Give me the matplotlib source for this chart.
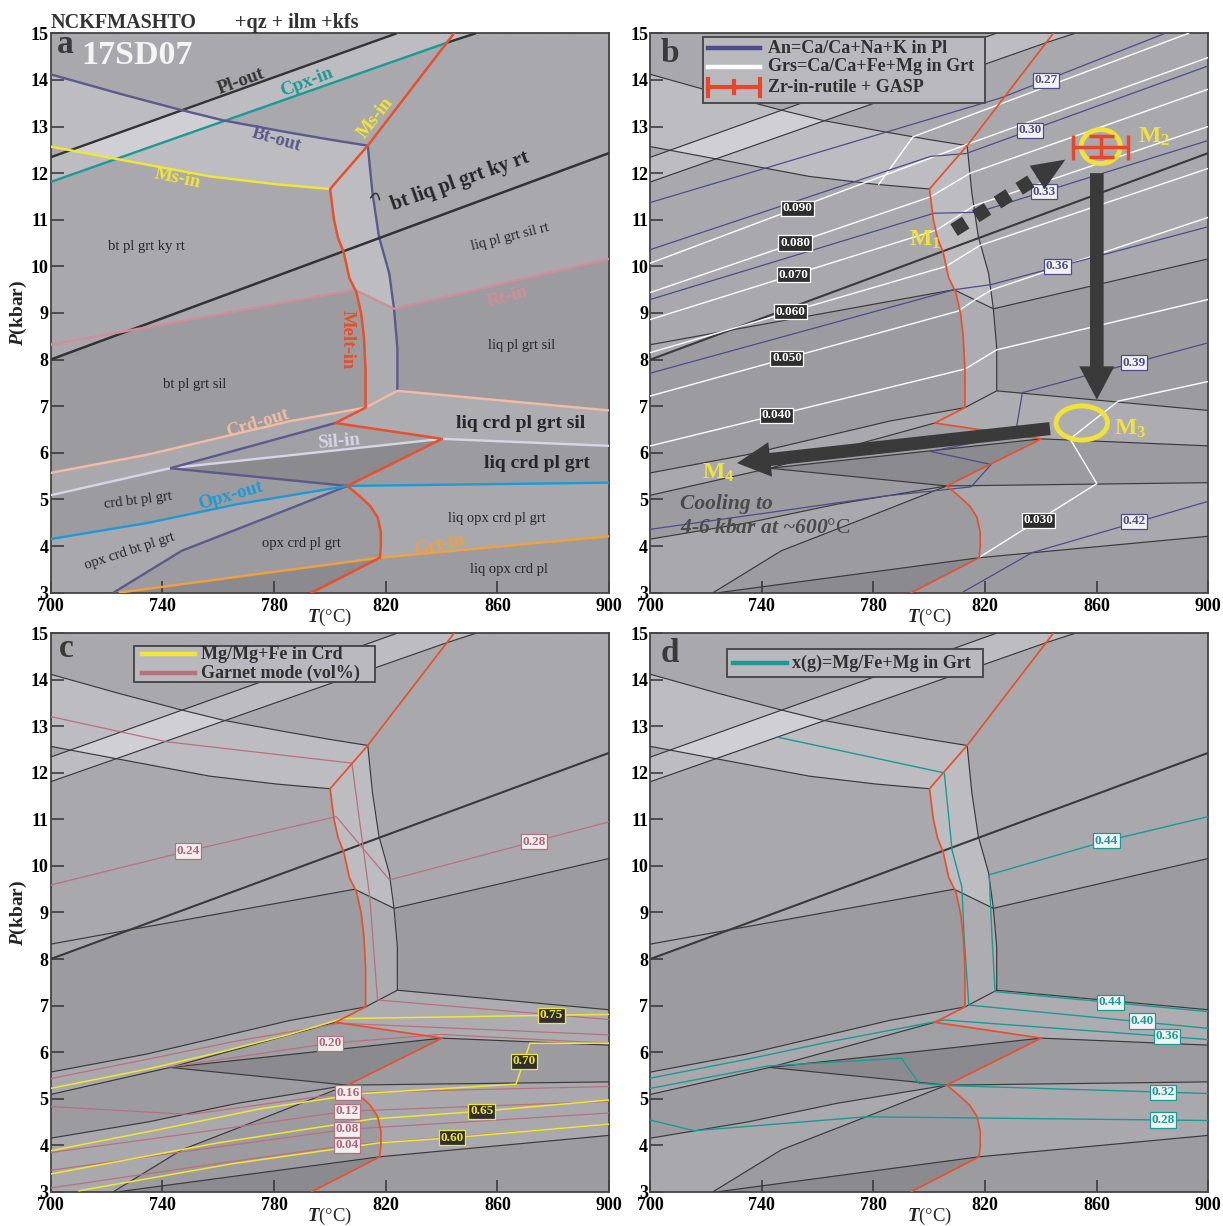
import numpy as np
import matplotlib
matplotlib.use("Agg")
import matplotlib.pyplot as plt
from matplotlib.colors import to_rgb
from matplotlib.patches import Polygon, Ellipse, Rectangle
from matplotlib.lines import Line2D

plt.rcParams["font.family"] = ["Liberation Serif", "DejaVu Serif"]
plt.rcParams["mathtext.fontset"] = "custom"
plt.rcParams["mathtext.rm"] = "Liberation Serif"
plt.rcParams["mathtext.it"] = "Liberation Serif:italic:bold"
plt.rcParams["mathtext.bf"] = "Liberation Serif:bold"

T_RANGE = (700, 900)
P_RANGE = (3, 15)
T_TICKS = [700, 740, 780, 820, 860, 900]
P_TICKS = list(range(3, 16))

# ---------------- phase boundaries (T in degC, P in kbar) ----------------
PL_OUT_T = [700, 824]
PL_OUT_P = [12.34, 15.0]
CPX_IN_T = [700, 842, 852.3]
CPX_IN_P = [11.81, 14.8, 15.0]
BT_OUT_CURVE_T = [700, 725, 746.4, 762, 783.6, 800, 813.6]
BT_OUT_CURVE_P = [14.12, 13.70, 13.36, 13.13, 12.89, 12.72, 12.59]
BT_OUT_VERT_T = [813.6, 815.3, 817.6, 821.3, 823.0, 824.2, 824.2]
BT_OUT_VERT_P = [12.59, 11.57, 10.64, 9.85, 9.09, 8.26, 7.33]
MS_IN_T = [700, 724, 757, 781, 800.1]
MS_IN_P = [12.57, 12.30, 11.93, 11.76, 11.66]
MELT_HP_T = [844.5, 813.6, 800.1, 801.5, 803.0, 805.0, 807.0, 809.5, 811.2, 812.2, 812.8, 812.8]
MELT_HP_P = [15.0, 12.59, 11.66, 11.0, 10.6, 10.3, 9.75, 9.45, 9.0, 8.5, 7.8, 6.97]
MELT_KINK_T = [812.8, 802.0, 840.2, 806.3]
MELT_KINK_P = [6.97, 6.64, 6.30, 5.29]
MELT_LP_T = [806.3, 810.5, 814.5, 817.1, 818.3, 818.3, 817.9, 793.5]
MELT_LP_P = [5.29, 5.08, 4.86, 4.62, 4.30, 4.00, 3.75, 3.00]
KY_SIL_T = [700, 900]
KY_SIL_P = [8.0, 12.43]
RT_IN_T = [700, 808.9, 823.0, 900]
RT_IN_P = [8.32, 9.50, 9.09, 10.16]
CRD_OUT_T = [700, 734.6, 760.2, 785.7, 812.8, 824.2, 900]
CRD_OUT_P = [5.57, 5.96, 6.32, 6.68, 6.97, 7.33, 6.91]
SIL_IN_T = [700, 742.8, 840.2, 900]
SIL_IN_P = [5.09, 5.67, 6.30, 6.15]
BT_LOW_A_T = [742.8, 802.0]
BT_LOW_A_P = [5.67, 6.64]
BT_LOW_B_T = [742.8, 806.3]
BT_LOW_B_P = [5.67, 5.29]
BT_LOW_C_T = [722.5, 747, 777, 806.3]
BT_LOW_C_P = [3.0, 3.9, 4.6, 5.29]
OPX_OUT_T = [700, 735, 767, 806.3, 900]
OPX_OUT_P = [4.15, 4.50, 4.90, 5.29, 5.36]
GRT_IN_T = [724.4, 817.9, 900]
GRT_IN_P = [3.0, 3.75, 4.21]

# ---------------- isopleths ----------------
# An = Ca/(Ca+Na+K) in plagioclase
AN_LINES = {
    "0.27": ([700, 826, 884.6], [11.37, 13.62, 15.0]),
    "0.30": ([700, 800.5, 813.2, 900], [10.36, 12.36, 12.42, 14.30]),
    "0.33": ([700, 801.7, 817.3, 900], [9.29, 11.14, 11.16, 12.70]),
    "0.36": ([700, 809.0, 822.2, 900], [7.71, 9.50, 9.61, 10.85]),
    "0.39": ([700, 741.6, 783.7, 815.0, 822.2, 800.5, 830.9, 833.4, 900],
             [4.36, 4.71, 5.07, 5.27, 5.75, 6.03, 6.40, 7.29, 8.36]),
    "0.42": ([811.7, 836.9, 900], [3.0, 3.86, 4.96]),
}
AN_LABEL_T = [841.9, 836.2, 841.1, 846.0, 873.4, 873.4]
AN_LABEL_P = [13.99, 12.92, 11.60, 10.00, 7.93, 4.53]

# Grs = Ca/(Ca+Fe+Mg) in garnet
GRS_LINES = {
    "0.100": ([781.9, 794.2, 893.0], [11.76, 12.78, 15.0]),
    "0.090": ([700, 814.1, 900], [10.07, 12.63, 14.48]),
    "0.080": ([700, 800.4, 814.7, 900], [9.44, 11.49, 12.00, 13.80]),
    "0.070": ([700, 802.7, 816.0, 900], [8.86, 10.78, 11.30, 13.00]),
    "0.060": ([700, 806.0, 818.2, 900], [8.15, 10.00, 10.45, 12.10]),
    "0.050": ([700, 810.3, 816.6, 822.5, 900], [7.22, 9.04, 9.29, 9.50, 11.05]),
    "0.040": ([700, 812.9, 824.2, 900], [6.15, 7.80, 8.21, 9.29]),
    "0.030": ([818.0, 843.3, 860.1, 850.5, 867.8, 900], [3.76, 4.71, 5.34, 6.30, 7.11, 7.53]),
}
GRS_LABEL_TXT = ["0.090", "0.080", "0.070", "0.060", "0.050", "0.040", "0.030"]
GRS_LABEL_T = [752.7, 751.9, 751.3, 750.4, 749.0, 745.3, 839.1]
GRS_LABEL_P = [11.25, 10.50, 9.82, 9.03, 8.03, 6.81, 4.55]

# Mg/(Mg+Fe) in cordierite
CRD_MG_LINES = {
    "0.75": ([700, 735, 760, 785, 804.4, 900], [5.22, 5.64, 5.99, 6.37, 6.72, 6.81]),
    "0.70": ([700, 740, 775, 811.5, 866.7, 871.7, 900], [3.88, 4.35, 4.78, 5.11, 5.31, 6.19, 6.19]),
    "0.65": ([700, 760, 815, 854.4, 900], [3.38, 4.05, 4.56, 4.73, 4.97]),
    "0.60": ([710.2, 765, 817.8, 843.8, 900], [3.02, 3.60, 4.05, 4.16, 4.45]),
}
CRD_MG_LABEL_T = [879.4, 869.5, 854.4, 843.8]
CRD_MG_LABEL_P = [6.79, 5.80, 4.73, 4.16]

# garnet mode (vol%)
GRT_MODE_LINES = [
    ([700, 741.4, 807.9, 814.3, 817.1, 900], [13.21, 12.67, 12.21, 9.34, 7.12, 6.70]),
    ([700, 749.2, 802.3, 821.4, 900], [9.59, 10.32, 11.06, 9.70, 10.95]),
    ([700, 735, 765, 803.6, 900], [5.43, 5.85, 6.22, 6.62, 6.37]),
    ([742.8, 800.1, 840, 900], [5.68, 6.19, 6.38, 6.19]),
    ([700, 749.9, 806.5, 900], [4.83, 4.66, 5.13, 5.26]),
    ([700, 750, 806.1, 900], [3.84, 4.25, 4.73, 4.94]),
    ([700, 750, 806.1, 900], [3.46, 3.88, 4.34, 4.69]),
    ([700, 750, 806.1, 900], [3.08, 3.52, 4.00, 4.44]),
]
GRT_MODE_LABEL_TXT = ["0.24", "0.28", "0.20", "0.16", "0.12", "0.08", "0.04"]
GRT_MODE_LABEL_T = [749.2, 873.1, 800.1, 806.5, 806.1, 806.1, 806.1]
GRT_MODE_LABEL_P = [10.32, 10.52, 6.19, 5.13, 4.73, 4.34, 4.00]

# x(g) = Mg/(Fe+Mg) in garnet
XG_LINES = [
    ([900, 863.6, 821.5, 822.5, 823.6, 900], [11.06, 10.54, 9.81, 8.50, 7.30, 6.87]),
    ([745.5, 805.4, 808.2, 811.7, 812.5, 814.2, 900], [12.77, 12.00, 10.34, 9.55, 8.50, 7.01, 6.51]),
    ([700, 735, 765, 805.4, 900], [5.44, 5.85, 6.23, 6.69, 6.27]),
    ([700, 742, 790, 796.3, 807, 900], [5.22, 5.70, 5.87, 5.33, 5.28, 5.11]),
    ([700, 715.7, 777.4, 900], [4.54, 4.31, 4.61, 4.53]),
]
XG_LABEL_TXT = ["0.44", "0.44", "0.40", "0.36", "0.32", "0.28"]
XG_LABEL_T = [863.6, 865.0, 876.2, 885.3, 883.9, 883.9]
XG_LABEL_P = [10.54, 7.07, 6.67, 6.34, 5.14, 4.54]

# P-T path
M2_T, M2_T_ERR = 861.5, 9.8
M2_P, M2_P_ERR = 12.57, 0.22
M3_T, M3_P = 854.7, 6.64
PROGRADE_T = [808.9, 848.8]
PROGRADE_P = [10.78, 12.29]
DECOMP_T = [860.1, 860.1]
DECOMP_P = [12.0, 7.14]
COOL_T = [843.3, 731.1]
COOL_P = [6.52, 5.78]

# ---------------- colours ----------------
SHADES = ["#8b8b8f", "#9c9ca0", "#a9a9ad", "#bdbdc1", "#d0d0d4", "#adadb1", "#a0a0a4"]
DARK = "#333333"
RED = "#e8502c"
TEAL = "#1a9a96"
SLATE = "#5a5a8c"
YEL = "#f2e632"
PINK = "#cf8e9a"
PEACH = "#f2bba4"
LAV = "#d8d4e8"
BLUE = "#1c9ad6"
ORANGE = "#f0a03c"
AN_COL = "#4c4c8c"
GM_COL = "#b8707e"
PATH_COL = "#3a3a3a"


def lin(x, xs, ys):
    xs = np.asarray(xs, float)
    ys = np.asarray(ys, float)
    y = np.interp(x, xs, ys)
    y = np.where(x < xs[0], ys[0] + (x - xs[0]) * (ys[1] - ys[0]) / (xs[1] - xs[0]), y)
    y = np.where(x > xs[-1], ys[-1] + (x - xs[-1]) * (ys[-1] - ys[-2]) / (xs[-1] - xs[-2]), y)
    return y


def field_raster(n=900):
    T = np.linspace(*T_RANGE, n)
    P = np.linspace(*P_RANGE, n)
    TT, PP = np.meshgrid(T, P)
    pl = lin(TT, PL_OUT_T, PL_OUT_P)
    cpx = lin(TT, CPX_IN_T, CPX_IN_P)
    bt = np.interp(TT, BT_OUT_CURVE_T, BT_OUT_CURVE_P)
    ms = np.interp(TT, MS_IN_T, MS_IN_P)
    ky = PP > lin(TT, KY_SIL_T, KY_SIL_P)
    rt = PP > lin(TT, RT_IN_T, RT_IN_P)
    melt_T = np.interp(PP, MELT_HP_P[::-1], MELT_HP_T[::-1])
    btv_T = np.interp(PP, BT_OUT_VERT_P[::-1], BT_OUT_VERT_T[::-1])
    band_pc = (PP > cpx) & (PP < pl)
    sub = TT < melt_T
    band = (~sub) & (TT < btv_T) & (PP < BT_OUT_VERT_P[0])
    right = (~sub) & (~band)

    idx = np.full(TT.shape, 2)
    m = sub & ~ky
    idx[m & ~rt] = 1
    idx[m & rt] = 2
    below_ms = PP < ms
    above_bt = PP > bt
    m = sub & ky & below_ms
    idx[m] = 2
    idx[m & band_pc] = 3
    m = sub & ky & ~below_ms & ~above_bt
    idx[m] = 3
    idx[m & band_pc] = 4
    m = sub & ky & ~below_ms & above_bt
    idx[m] = 2
    idx[m & band_pc] = 3
    idx[band & rt] = 3
    idx[band & ~rt] = 5
    idx[right & rt] = 2
    idx[right & ~rt] = 1
    idx[right & band_pc] = 3
    pal = np.array([to_rgb(c) for c in SHADES])
    return pal[idx]


def pt(T, P, i):
    return (T[i], P[i])


def pts(T, P, sl):
    return list(zip(T[sl], P[sl]))


CORNER_LL = (T_RANGE[0], P_RANGE[0])
CORNER_LR = (T_RANGE[1], P_RANGE[0])

LOW_FIELDS = [
    (pts(CRD_OUT_T, CRD_OUT_P, slice(0, 5)) + [pt(MELT_KINK_T, MELT_KINK_P, 1),
     pt(BT_LOW_A_T, BT_LOW_A_P, 0), pt(SIL_IN_T, SIL_IN_P, 0)], 2),
    (pts(CRD_OUT_T, CRD_OUT_P, slice(4, 7)) + [pt(SIL_IN_T, SIL_IN_P, 3), pt(SIL_IN_T, SIL_IN_P, 2),
     pt(MELT_KINK_T, MELT_KINK_P, 1)], 5),
    ([pt(BT_LOW_A_T, BT_LOW_A_P, 0), pt(MELT_KINK_T, MELT_KINK_P, 1), pt(MELT_KINK_T, MELT_KINK_P, 2)], 6),
    ([pt(SIL_IN_T, SIL_IN_P, 1), pt(SIL_IN_T, SIL_IN_P, 2), pt(MELT_KINK_T, MELT_KINK_P, 3)], 0),
    ([pt(SIL_IN_T, SIL_IN_P, 2), pt(SIL_IN_T, SIL_IN_P, 3), pt(OPX_OUT_T, OPX_OUT_P, 4),
      pt(OPX_OUT_T, OPX_OUT_P, 3)], 1),
    ([pt(SIL_IN_T, SIL_IN_P, 0), pt(SIL_IN_T, SIL_IN_P, 1)] + pts(OPX_OUT_T, OPX_OUT_P, slice(3, None, -1)), 1),
    (pts(OPX_OUT_T, OPX_OUT_P, slice(0, 4)) + pts(BT_LOW_C_T, BT_LOW_C_P, slice(2, None, -1)) + [CORNER_LL], 2),
    (pts(BT_LOW_C_T, BT_LOW_C_P, slice(0, 4)) + pts(MELT_LP_T, MELT_LP_P, slice(1, 7))
     + [pt(GRT_IN_T, GRT_IN_P, 0)], 1),
    ([pt(GRT_IN_T, GRT_IN_P, 0), pt(GRT_IN_T, GRT_IN_P, 1), pt(MELT_LP_T, MELT_LP_P, 7)], 0),
    ([pt(OPX_OUT_T, OPX_OUT_P, 3), pt(OPX_OUT_T, OPX_OUT_P, 4), pt(GRT_IN_T, GRT_IN_P, 2),
      pt(GRT_IN_T, GRT_IN_P, 1)] + pts(MELT_LP_T, MELT_LP_P, slice(5, 0, -1)), 2),
    ([pt(GRT_IN_T, GRT_IN_P, 1), pt(GRT_IN_T, GRT_IN_P, 2), CORNER_LR, pt(MELT_LP_T, MELT_LP_P, 7)], 1),
]

RASTER = field_raster()


def draw_base(ax, coloured):
    ax.imshow(RASTER, extent=(*T_RANGE, *P_RANGE), origin="lower", aspect="auto",
              interpolation="antialiased", zorder=0)
    for verts, shade in LOW_FIELDS:
        ax.add_patch(Polygon(verts, closed=True, fc=SHADES[shade], ec=SHADES[shade],
                             lw=0.3, zorder=1))
    if coloured:
        w = 1.7
        specs = [
            (PL_OUT_T, PL_OUT_P, DARK, w), (CPX_IN_T[:2], CPX_IN_P[:2], TEAL, w),
            (CPX_IN_T[1:], CPX_IN_P[1:], DARK, w),
            (BT_OUT_CURVE_T, BT_OUT_CURVE_P, SLATE, w), (BT_OUT_VERT_T, BT_OUT_VERT_P, SLATE, w),
            (MS_IN_T, MS_IN_P, YEL, w), (KY_SIL_T, KY_SIL_P, DARK, 1.8),
            (RT_IN_T, RT_IN_P, PINK, w), (CRD_OUT_T, CRD_OUT_P, PEACH, w),
            (SIL_IN_T, SIL_IN_P, LAV, w), (BT_LOW_A_T, BT_LOW_A_P, SLATE, w),
            (BT_LOW_B_T, BT_LOW_B_P, SLATE, w), (BT_LOW_C_T, BT_LOW_C_P, SLATE, w),
            (OPX_OUT_T, OPX_OUT_P, BLUE, w), (GRT_IN_T, GRT_IN_P, ORANGE, w),
        ]
        melt_w = 1.8
    else:
        c, w = "#3a3a3a", 0.85
        specs = [
            (PL_OUT_T, PL_OUT_P, c, w), (CPX_IN_T, CPX_IN_P, c, w),
            (BT_OUT_CURVE_T, BT_OUT_CURVE_P, c, w), (BT_OUT_VERT_T, BT_OUT_VERT_P, c, w),
            (MS_IN_T, MS_IN_P, c, w), (KY_SIL_T, KY_SIL_P, c, 1.5),
            (RT_IN_T, RT_IN_P, c, w), (CRD_OUT_T, CRD_OUT_P, c, w),
            (SIL_IN_T, SIL_IN_P, c, w), (BT_LOW_A_T, BT_LOW_A_P, c, w),
            (BT_LOW_B_T, BT_LOW_B_P, c, w), (BT_LOW_C_T, BT_LOW_C_P, c, w),
            (OPX_OUT_T, OPX_OUT_P, c, w), (GRT_IN_T, GRT_IN_P, c, w),
        ]
        melt_w = 1.25
    for T, P, col, lw in specs:
        ax.plot(T, P, color=col, lw=lw, solid_capstyle="butt", zorder=3)
    melt_T = MELT_HP_T + MELT_KINK_T[1:] + MELT_LP_T[1:]
    melt_P = MELT_HP_P + MELT_KINK_P[1:] + MELT_LP_P[1:]
    ax.plot(melt_T, melt_P, color=RED, lw=melt_w, zorder=5)


def style(ax, ylabel):
    ax.set_xlim(*T_RANGE)
    ax.set_ylim(*P_RANGE)
    ax.set_xticks(T_TICKS)
    ax.set_yticks(P_TICKS)
    ax.set_xticklabels([str(t) for t in T_TICKS], fontweight="bold", fontsize=13)
    ax.set_yticklabels([str(p) for p in P_TICKS], fontweight="bold", fontsize=13)
    ax.tick_params(axis="x", direction="in", length=9, width=1.1, color="#333333", pad=4)
    ax.tick_params(axis="y", direction="in", length=9, width=1.1, color="#333333", pad=1.5)
    for s in ax.spines.values():
        s.set_color("#444444")
        s.set_linewidth(1.3)
    ax.set_xlabel(r"$\mathit{T}$(°C)", fontsize=13.5, color="#222222")
    ax.xaxis.set_label_coords(0.5, -0.026)
    if ylabel:
        ax.set_ylabel(r"$\mathit{P}$(kbar)", fontsize=14, fontweight="bold", labelpad=1,
                      color="#222222")


def box_label(ax, T, P, txt, fc, ec, tc):
    ax.text(T, P, txt, ha="center", va="center", fontsize=9.5, fontweight="bold", color=tc,
            bbox=dict(boxstyle="square,pad=0.12", fc=fc, ec=ec, lw=0.9), zorder=7)


def legend_box(ax, x0, x1, y0, y1):
    ax.add_patch(Rectangle((x0, y0), x1 - x0, y1 - y0, transform=ax.transAxes,
                           fc="#b9b9bd", ec="#4a4a4a", lw=1.4, zorder=8))


def legend_entry(ax, xa, xb, y, xt, col, text, lw=3.2):
    ax.add_line(Line2D([xa, xb], [y, y], transform=ax.transAxes, color=col, lw=lw, zorder=9))
    ax.text(xt, y, text, transform=ax.transAxes, ha="left", va="center", fontsize=13,
            fontweight="bold", color="#303030", zorder=9)


def path_label(ax, T, P, sub):
    ax.text(T, P, "M$_{\\mathbf{%s}}$" % sub, ha="left", va="baseline", fontsize=17,
            fontweight="bold", color="#f0e23a", zorder=10)


fig = plt.figure(figsize=(12.23, 12.26), dpi=100)
axA = fig.add_axes([0.04137, 0.51656, 0.45658, 0.45628])
axB = fig.add_axes([0.53173, 0.51656, 0.45609, 0.45628])
axC = fig.add_axes([0.04137, 0.02798, 0.45658, 0.45546])
axD = fig.add_axes([0.53173, 0.02798, 0.45609, 0.45546])

# ---------------- panel a: labelled pseudosection ----------------
draw_base(axA, True)
style(axA, True)
fig.text(51 / 1223, 1 - 28 / 1226, "NCKFMASHTO", fontsize=14.5, fontweight="bold",
         color="#333333", va="baseline")
fig.text(235 / 1223, 1 - 28 / 1226, "+qz + ilm +kfs", fontsize=14.5, fontweight="bold",
         color="#333333", va="baseline")
axA.text(0.0115, 0.965, "a", transform=axA.transAxes, fontsize=24, fontweight="bold",
         color="#3a3a3a", va="baseline", zorder=9)
axA.text(0.0544, 0.946, "17SD07", transform=axA.transAxes, fontsize=24.5, fontweight="bold",
         color="#f4f4f4", va="baseline", zorder=9)

FIELD_LABELS = [
    ("bt pl grt ky rt", 734.3, 10.42, 0, 10.5, "normal"),
    ("liq pl grt sil rt", 864.5, 10.64, 14, 10.5, "normal"),
    ("bt liq pl grt ky rt", 846.5, 11.82, 19.5, 14.5, "bold"),
    ("liq pl grt sil", 868.8, 8.31, 0, 10.5, "normal"),
    ("bt pl grt sil", 751.7, 7.46, 0, 10.5, "normal"),
    ("liq crd pl grt sil", 868.5, 6.63, 0, 14, "bold"),
    ("liq crd pl grt", 874.1, 5.78, 0, 14, "bold"),
    ("crd bt pl grt", 731.3, 4.97, 7, 10.5, "normal"),
    ("opx crd bt pl grt", 728.3, 3.88, 18, 10.5, "normal"),
    ("opx crd pl grt", 789.8, 4.06, 0, 10.5, "normal"),
    ("liq opx crd pl grt", 860.0, 4.60, 0, 10.5, "normal"),
    ("liq opx crd pl", 864.3, 3.50, 0, 10.5, "normal"),
]
for txt, T, P, rot, fs, fw in FIELD_LABELS:
    axA.text(T, P, txt, ha="center", va="center", rotation=rot, rotation_mode="anchor",
             fontsize=fs, fontweight=fw, color="#262626", zorder=6)

BOUNDARY_LABELS = [
    ("Pl-out", 768.3, 13.96, 20, DARK),
    ("Cpx-in", 791.6, 13.96, 21, TEAL),
    ("Bt-out", 781.0, 12.71, -16, SLATE),
    ("Ms-in", 745.6, 11.89, -12, YEL),
    ("Ms-in", 816.4, 13.18, 52, YEL),
    ("Melt-in", 806.2, 8.42, -90, RED),
    ("Rt-in", 863.5, 9.35, 16, PINK),
    ("Crd-out", 774.2, 6.63, 17, PEACH),
    ("Sil-in", 803.1, 6.24, 5, LAV),
    ("Opx-out", 764.6, 5.08, 16, BLUE),
    ("Grt-in", 839.1, 4.02, 12, ORANGE),
]
for txt, T, P, rot, col in BOUNDARY_LABELS:
    axA.text(T, P, txt, ha="center", va="center", rotation=rot, rotation_mode="anchor",
             fontsize=13.5, fontweight="bold", color=col, zorder=6)
axA.annotate("", xy=(817.8, 11.43), xytext=(814.6, 11.47),
             arrowprops=dict(arrowstyle="-", connectionstyle="arc3,rad=-1.2", color="#303030",
                             lw=1.1, shrinkA=0, shrinkB=0), zorder=6)

# ---------------- panel b: An and Grs isopleths with P-T path ----------------
draw_base(axB, False)
style(axB, False)
for key, (T, P) in GRS_LINES.items():
    axB.plot(T, P, color="white", lw=1.0, zorder=4)
for key, (T, P) in AN_LINES.items():
    axB.plot(T, P, color=AN_COL, lw=0.9, zorder=4)
for txt, T, P in zip(AN_LINES.keys(), AN_LABEL_T, AN_LABEL_P):
    box_label(axB, T, P, txt, "#f2f2f4", AN_COL, AN_COL)
for txt, T, P in zip(GRS_LABEL_TXT, GRS_LABEL_T, GRS_LABEL_P):
    box_label(axB, T, P, txt, "#2e2e2e", "white", "white")

# prograde path M1 -> M2 (dashed)
frac_dash, frac_head = 0.70, 0.73
dT = PROGRADE_T[1] - PROGRADE_T[0]
dP = PROGRADE_P[1] - PROGRADE_P[0]
axB.plot([PROGRADE_T[0], PROGRADE_T[0] + frac_dash * dT],
         [PROGRADE_P[0], PROGRADE_P[0] + frac_dash * dP],
         color=PATH_COL, lw=10, dashes=(1.0, 0.85), dash_capstyle="butt", zorder=9)
axB.annotate("", xy=(PROGRADE_T[1], PROGRADE_P[1]),
             xytext=(PROGRADE_T[0] + frac_head * dT, PROGRADE_P[0] + frac_head * dP),
             arrowprops=dict(arrowstyle="simple,head_length=1.2,head_width=1.0,tail_width=0.01",
                             mutation_scale=20, fc=PATH_COL, ec="none", shrinkA=0, shrinkB=0),
             zorder=9)
axB.annotate("", xy=(DECOMP_T[1], DECOMP_P[1]), xytext=(DECOMP_T[0], DECOMP_P[0]),
             arrowprops=dict(arrowstyle="simple,head_length=1.2,head_width=1.26,tail_width=0.49",
                             mutation_scale=20, fc=PATH_COL, ec="none", shrinkA=0, shrinkB=0),
             zorder=9)
axB.annotate("", xy=(COOL_T[1], COOL_P[1]), xytext=(COOL_T[0], COOL_P[0]),
             arrowprops=dict(arrowstyle="simple,head_length=1.2,head_width=1.25,tail_width=0.47",
                             mutation_scale=20, fc=PATH_COL, ec="none", shrinkA=0, shrinkB=0),
             zorder=9)
axB.add_patch(Ellipse((M2_T, M2_P), 14.0, 0.73, fc="none", ec="#f0e23a", lw=3.5, zorder=10))
axB.errorbar(M2_T, M2_P, xerr=M2_T_ERR, yerr=M2_P_ERR, fmt="none", ecolor="#e8452a",
             elinewidth=2.5, capsize=9, capthick=2.5, zorder=11)
axB.add_patch(Ellipse((M3_T, M3_P), 18.5, 0.73, fc="none", ec="#f0e23a", lw=3.5, zorder=10))
path_label(axB, 792.7, 10.44, "1")
path_label(axB, 874.8, 12.65, "2")
path_label(axB, 866.3, 6.38, "3")
path_label(axB, 718.5, 5.45, "4")
axB.text(710.8, 4.79, "Cooling to", fontsize=15.5, fontweight="bold", fontstyle="italic",
         color="#4a4a4a", va="baseline", zorder=10)
axB.text(710.8, 4.27, "4-6 kbar at ~600$\\mathrm{°C}$", fontsize=15.5, fontweight="bold",
         fontstyle="italic", color="#4a4a4a", va="baseline", zorder=10)
axB.text(0.018, 0.949, "b", transform=axB.transAxes, fontsize=24, fontweight="bold",
         color="#3a3a3a", va="baseline", zorder=9)
legend_box(axB, 0.0938, 0.6006, 0.876, 0.9939)
legend_entry(axB, 0.103, 0.197, 0.973, 0.2115, AN_COL, "An=Ca/Ca+Na+K in Pl")
legend_entry(axB, 0.103, 0.197, 0.940, 0.2115, "white", "Grs=Ca/Ca+Fe+Mg in Grt")
ly = 0.9035
axB.add_line(Line2D([0.103, 0.197], [ly, ly], transform=axB.transAxes, color="#e8452a",
                    lw=3, zorder=9))
for xc, h in [(0.103, 0.015), (0.197, 0.015), (0.150, 0.011)]:
    axB.add_line(Line2D([xc, xc], [ly - h, ly + h], transform=axB.transAxes, color="#e8452a",
                        lw=3, zorder=9))
axB.text(0.2115, ly, "Zr-in-rutile + GASP", transform=axB.transAxes, ha="left", va="center",
         fontsize=13, fontweight="bold", color="#303030", zorder=9)

# ---------------- panel c: Crd Mg-number and garnet mode ----------------
draw_base(axC, False)
style(axC, True)
for T, P in GRT_MODE_LINES:
    axC.plot(T, P, color=GM_COL, lw=0.9, zorder=4)
for key, (T, P) in CRD_MG_LINES.items():
    axC.plot(T, P, color=YEL, lw=1.1, zorder=4)
for txt, T, P in zip(GRT_MODE_LABEL_TXT, GRT_MODE_LABEL_T, GRT_MODE_LABEL_P):
    box_label(axC, T, P, txt, "#f4f0f1", GM_COL, "#b06478")
for txt, T, P in zip(CRD_MG_LINES.keys(), CRD_MG_LABEL_T, CRD_MG_LABEL_P):
    box_label(axC, T, P, txt, "#2e2e2e", YEL, YEL)
axC.text(0.014, 0.958, "c", transform=axC.transAxes, fontsize=24, fontweight="bold",
         color="#3a3a3a", va="baseline", zorder=9)
legend_box(axC, 0.150, 0.5806, 0.9133, 0.9773)
legend_entry(axC, 0.164, 0.258, 0.9624, 0.269, YEL, "Mg/Mg+Fe in Crd")
legend_entry(axC, 0.164, 0.258, 0.9284, 0.269, GM_COL, "Garnet mode (vol%)")

# ---------------- panel d: garnet x(g) ----------------
draw_base(axD, False)
style(axD, False)
for T, P in XG_LINES:
    axD.plot(T, P, color=TEAL, lw=1.0, zorder=4)
for txt, T, P in zip(XG_LABEL_TXT, XG_LABEL_T, XG_LABEL_P):
    box_label(axD, T, P, txt, "#f2f4f4", TEAL, TEAL)
axD.text(0.019, 0.949, "d", transform=axD.transAxes, fontsize=24, fontweight="bold",
         color="#3a3a3a", va="baseline", zorder=9)
legend_box(axD, 0.138, 0.597, 0.9212, 0.9713)
legend_entry(axD, 0.148, 0.2446, 0.9463, 0.2537, TEAL, "x(g)=Mg/Fe+Mg in Grt")

fig.savefig("out.png", dpi=100, facecolor="white")
